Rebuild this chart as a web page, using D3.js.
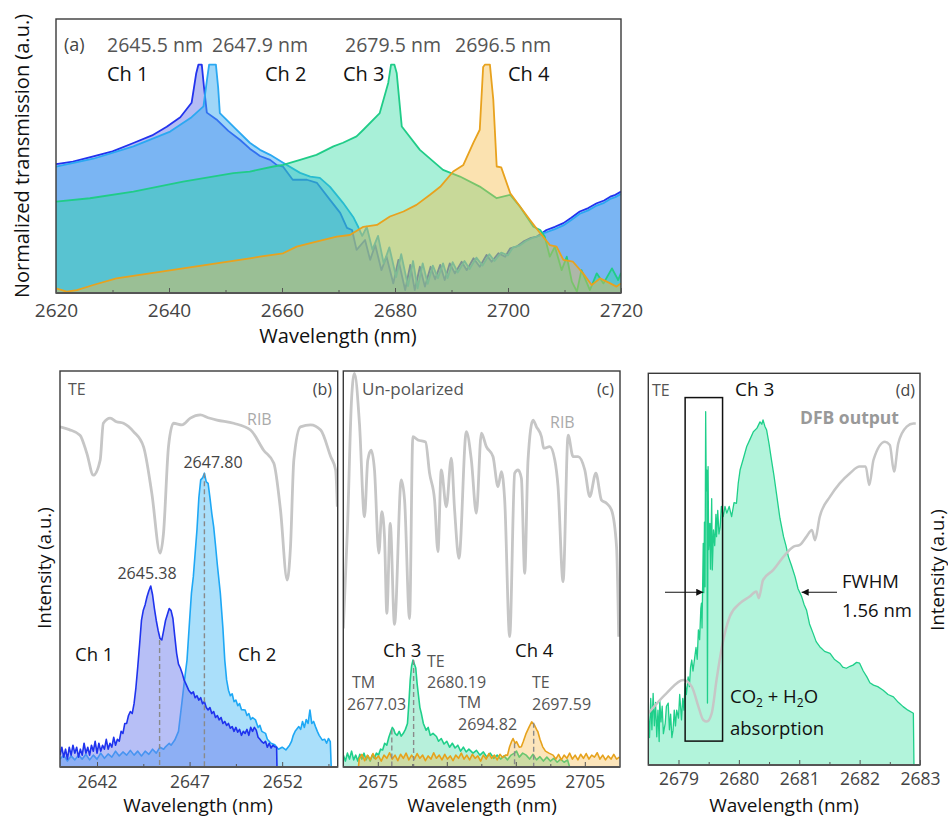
<!DOCTYPE html>
<html>
<head>
<meta charset="utf-8">
<script src="https://cdn.jsdelivr.net/npm/d3@7"></script>
<style>
  body { margin: 0; background: #fff; }
  svg { display: block; font-family: "Open Sans", sans-serif; }
</style>
</head>
<body>
<svg id="fig" width="948" height="821"></svg>
<script>
// ---------- data: [wavelength nm, value] ----------
// (a) normalized transmission of the four filters
const aCh1 = [[2620,0.564],[2623,0.575],[2626.6,0.598],[2630,0.62],[2633.7,0.657],[2637,0.69],[2639.6,0.728],[2642,0.77],[2644,0.833],[2644.8,0.96],[2645.2,1.0],[2645.8,1.0],[2646.2,0.9],[2646.7,0.79],[2648.4,0.76],[2650.5,0.71],[2652.6,0.67],[2654.3,0.632],[2656.1,0.60],[2657.9,0.583],[2659.1,0.56],[2660.2,0.553],[2661.9,0.496],[2664.4,0.496],[2666.2,0.482],[2668.5,0.408],[2670.3,0.351],[2671.5,0.285],[2672.4,0.276],[2673.2,0.189],[2674.7,0.232],[2675.6,0.145],[2676.5,0.21],[2677.6,0.10],[2678.5,0.16],[2679.7,0.042],[2680.6,0.145],[2681.8,0.013],[2682.7,0.123],[2683.5,0.013],[2684.4,0.115],[2685.3,0.028],[2686.3,0.115],[2687.1,0.06],[2688.0,0.123],[2688.8,0.057],[2689.7,0.13],[2690.6,0.086],[2691.8,0.137],[2692.7,0.10],[2693.9,0.152],[2695.0,0.115],[2696.2,0.167],[2697.1,0.137],[2698.3,0.174],[2699.5,0.159],[2700.4,0.196],[2701.5,0.203],[2702.7,0.225],[2703.9,0.24],[2705.1,0.247],[2706.0,0.262],[2706.8,0.276],[2708.3,0.29],[2709.8,0.306],[2711.2,0.33],[2712.7,0.357],[2714.2,0.372],[2715.7,0.393],[2717,0.405],[2718.1,0.422],[2719,0.43],[2720,0.444]];
const aCh2 = [[2620,0.553],[2626.6,0.588],[2633.7,0.642],[2640.2,0.707],[2644,0.77],[2646.1,0.817],[2646.7,0.93],[2647.1,1.0],[2648.3,1.0],[2648.7,0.9],[2649.0,0.788],[2651.4,0.729],[2654.3,0.658],[2656.1,0.627],[2657.9,0.605],[2660.2,0.570],[2663.2,0.526],[2665,0.51],[2666.7,0.504],[2668.5,0.465],[2670.8,0.395],[2672.6,0.333],[2673.5,0.289],[2674.2,0.25],[2675.0,0.29],[2676.0,0.19],[2677.0,0.25],[2678.0,0.13],[2679.0,0.2],[2680.2,0.07],[2681.1,0.17],[2682.3,0.03],[2683.2,0.14],[2684.0,0.02],[2684.9,0.13],[2685.8,0.04],[2686.7,0.12],[2687.6,0.065],[2688.5,0.13],[2689.3,0.065],[2690.2,0.135],[2691.1,0.09],[2692.3,0.14],[2693.2,0.105],[2694.4,0.155],[2695.5,0.12],[2696.7,0.17],[2697.6,0.14],[2698.8,0.177],[2700,0.165],[2700.9,0.2],[2702,0.207],[2703.2,0.228],[2704.4,0.242],[2705.5,0.25],[2706.2,0.262],[2706.8,0.266],[2708.3,0.28],[2709.8,0.296],[2711.2,0.32],[2712.7,0.347],[2714.2,0.362],[2715.7,0.383],[2717,0.395],[2718.1,0.412],[2719,0.42],[2720,0.434]];
const aCh3 = [[2620,0.40],[2626,0.415],[2633.7,0.444],[2642.5,0.488],[2651.4,0.525],[2654.3,0.532],[2658.5,0.554],[2660.2,0.561],[2663.2,0.583],[2666.1,0.605],[2669.1,0.642],[2670.8,0.658],[2673.2,0.686],[2674.4,0.715],[2677.3,0.788],[2678.8,0.92],[2679.3,1.0],[2679.9,1.0],[2680.3,0.964],[2681.2,0.729],[2684.4,0.627],[2688.5,0.539],[2691.5,0.51],[2695.0,0.466],[2698.0,0.415],[2700.4,0.43],[2702.1,0.379],[2704.5,0.29],[2705.7,0.276],[2706.5,0.247],[2707.4,0.159],[2708.3,0.203],[2709.5,0.10],[2710.4,0.159],[2711.3,0.05],[2712.2,0.006],[2713.0,0.10],[2714.5,0.013],[2715.7,0.086],[2716.9,0.042],[2718.4,0.108],[2719.5,0.057],[2720,0.088]];
const aCh4 = [[2620,0.02],[2621.9,0.006],[2623.7,0.013],[2626.6,0.035],[2630.7,0.064],[2636.6,0.086],[2642.5,0.108],[2648.4,0.13],[2654.3,0.152],[2656.1,0.159],[2660.2,0.174],[2662.6,0.203],[2666.1,0.225],[2669.7,0.247],[2672.0,0.254],[2674.4,0.29],[2676.8,0.298],[2679.1,0.335],[2681.5,0.357],[2683.8,0.386],[2686.2,0.43],[2688.0,0.465],[2690.3,0.532],[2692.1,0.561],[2693.9,0.66],[2695.0,0.715],[2695.6,0.99],[2695.9,1.0],[2696.8,1.0],[2697.4,0.846],[2698.0,0.554],[2698.8,0.55],[2700.4,0.437],[2701.5,0.40],[2703.9,0.32],[2705.7,0.262],[2707.4,0.21],[2708.6,0.203],[2709.8,0.145],[2711.5,0.137],[2713.3,0.086],[2714.8,0.035],[2716.3,0.064],[2718.1,0.042],[2719.2,0.028],[2720,0.042]];
const aPeakLabels = ["2645.5 nm", "2647.9 nm", "2679.5 nm", "2696.5 nm"];
const aTicks = [2620, 2640, 2660, 2680, 2700, 2720];

// (b) TE emission of Ch 1 / Ch 2 with RIB reference
const bRib = [[2640.0,0.859],[2640.5,0.852],[2641.08,0.838],[2641.45,0.792],[2641.8,0.737],[2642.17,0.775],[2642.34,0.868],[2642.71,0.881],[2643.05,0.872],[2643.43,0.868],[2643.97,0.847],[2644.51,0.809],[2644.96,0.691],[2645.41,0.54],[2645.59,0.59],[2645.86,0.809],[2646.13,0.868],[2646.59,0.864],[2647.04,0.881],[2647.58,0.889],[2648.0,0.882],[2648.48,0.876],[2649.38,0.868],[2650.29,0.851],[2651.0,0.80],[2651.55,0.767],[2651.91,0.649],[2652.27,0.472],[2652.45,0.556],[2652.63,0.775],[2652.99,0.859],[2653.54,0.864],[2654.08,0.851],[2654.62,0.784],[2654.89,0.75],[2654.98,0.657]];
const bCh1 = [[2640.0,0.03],[2640.1,0.05],[2640.2,0.025],[2640.3,0.045],[2640.4,0.02],[2640.5,0.05],[2640.6,0.03],[2640.7,0.055],[2640.8,0.035],[2640.9,0.05],[2641.0,0.025],[2641.1,0.045],[2641.2,0.03],[2641.3,0.06],[2641.4,0.035],[2641.5,0.05],[2641.6,0.03],[2641.7,0.055],[2641.8,0.04],[2641.9,0.065],[2642.0,0.035],[2642.1,0.06],[2642.2,0.04],[2642.3,0.055],[2642.4,0.045],[2642.5,0.07],[2642.6,0.045],[2642.7,0.06],[2642.8,0.05],[2642.9,0.075],[2643.0,0.055],[2643.1,0.07],[2643.2,0.065],[2643.3,0.09],[2643.4,0.085],[2643.5,0.11],[2643.6,0.11],[2643.7,0.13],[2643.8,0.14],[2643.9,0.135],[2644.0,0.16],[2644.1,0.2],[2644.2,0.253],[2644.3,0.31],[2644.4,0.37],[2644.5,0.396],[2644.6,0.41],[2644.7,0.43],[2644.8,0.445],[2644.9,0.457],[2645.0,0.435],[2645.1,0.40],[2645.2,0.37],[2645.3,0.345],[2645.4,0.325],[2645.5,0.321],[2645.6,0.345],[2645.7,0.37],[2645.8,0.385],[2645.9,0.40],[2646.0,0.395],[2646.1,0.375],[2646.2,0.33],[2646.3,0.287],[2646.4,0.26],[2646.5,0.25],[2646.6,0.237],[2646.7,0.22],[2646.8,0.21],[2646.95,0.194],[2647.1,0.185],[2647.2,0.19],[2647.3,0.175],[2647.4,0.18],[2647.5,0.169],[2647.6,0.175],[2647.7,0.16],[2647.8,0.165],[2647.9,0.15],[2648.0,0.144],[2648.1,0.15],[2648.2,0.135],[2648.3,0.14],[2648.4,0.125],[2648.5,0.13],[2648.6,0.119],[2648.7,0.125],[2648.8,0.11],[2648.9,0.115],[2649.0,0.105],[2649.1,0.11],[2649.2,0.098],[2649.3,0.102],[2649.4,0.09],[2649.5,0.1],[2649.6,0.088],[2649.7,0.095],[2649.8,0.08],[2649.9,0.09],[2650.0,0.085],[2650.1,0.095],[2650.2,0.08],[2650.3,0.1],[2650.4,0.09],[2650.5,0.1],[2650.6,0.093],[2650.7,0.075],[2650.8,0.07],[2650.9,0.064],[2651.0,0.06],[2651.1,0.065],[2651.2,0.05],[2651.3,0.06],[2651.4,0.048],[2651.5,0.055],[2651.6,0.051],[2651.7,0.05],[2651.72,0.0]];
const bCh2 = [[2640.0,0.02],[2640.2,0.03],[2640.4,0.015],[2640.6,0.028],[2640.8,0.018],[2641.0,0.03],[2641.2,0.02],[2641.4,0.032],[2641.6,0.018],[2641.8,0.03],[2642.0,0.02],[2642.2,0.035],[2642.4,0.022],[2642.6,0.033],[2642.8,0.025],[2643.0,0.04],[2643.2,0.028],[2643.4,0.038],[2643.6,0.03],[2643.8,0.042],[2644.0,0.03],[2644.2,0.04],[2644.4,0.028],[2644.6,0.04],[2644.8,0.032],[2645.0,0.045],[2645.2,0.035],[2645.4,0.05],[2645.6,0.045],[2645.7,0.051],[2645.9,0.06],[2646.0,0.055],[2646.2,0.068],[2646.4,0.09],[2646.6,0.169],[2646.7,0.21],[2646.86,0.27],[2647.0,0.37],[2647.1,0.439],[2647.2,0.48],[2647.4,0.6],[2647.5,0.68],[2647.6,0.725],[2647.7,0.73],[2647.8,0.742],[2647.9,0.72],[2648.0,0.716],[2648.1,0.68],[2648.2,0.64],[2648.3,0.607],[2648.4,0.56],[2648.5,0.51],[2648.66,0.439],[2648.8,0.35],[2648.9,0.27],[2649.0,0.22],[2649.1,0.194],[2649.2,0.18],[2649.3,0.185],[2649.4,0.165],[2649.5,0.169],[2649.6,0.155],[2649.7,0.16],[2649.8,0.145],[2650.0,0.144],[2650.1,0.13],[2650.2,0.135],[2650.3,0.12],[2650.4,0.125],[2650.56,0.119],[2650.7,0.1],[2650.8,0.105],[2650.9,0.09],[2651.1,0.085],[2651.2,0.07],[2651.4,0.06],[2651.6,0.056],[2651.8,0.045],[2652.0,0.05],[2652.2,0.043],[2652.4,0.055],[2652.5,0.064],[2652.6,0.08],[2652.7,0.09],[2652.9,0.102],[2653.0,0.095],[2653.1,0.115],[2653.2,0.1],[2653.3,0.12],[2653.4,0.11],[2653.5,0.144],[2653.6,0.11],[2653.7,0.115],[2653.8,0.102],[2653.9,0.09],[2654.0,0.08],[2654.17,0.068],[2654.3,0.07],[2654.4,0.06],[2654.5,0.072],[2654.6,0.064],[2654.65,0.0]];
const bMarks = [2645.38, 2647.80];
const bTicks = [2642, 2647, 2652];

// (c) un-polarized emission of Ch 3 / Ch 4 with RIB reference
const cRib = [[2670.0,0.35],[2670.6,0.6],[2671.2,0.93],[2671.62,0.994],[2672.34,0.868],[2673.07,0.632],[2673.55,0.775],[2674.04,0.80],[2674.52,0.75],[2675.15,0.54],[2675.58,0.645],[2675.97,0.582],[2676.31,0.388],[2676.8,0.615],[2677.42,0.36],[2678.4,0.725],[2678.88,0.674],[2679.6,0.375],[2680.08,0.834],[2680.81,0.826],[2681.92,0.821],[2682.5,0.742],[2683.23,0.674],[2683.71,0.544],[2684.2,0.75],[2684.93,0.657],[2685.65,0.78],[2686.13,0.649],[2686.76,0.527],[2687.83,0.847],[2688.56,0.775],[2689.28,0.641],[2690.01,0.843],[2690.73,0.809],[2691.69,0.784],[2692.42,0.708],[2692.91,0.746],[2693.39,0.674],[2694.11,0.329],[2694.84,0.742],[2695.32,0.75],[2695.81,0.729],[2696.29,0.489],[2696.77,0.775],[2697.5,0.876],[2697.99,0.859],[2698.72,0.834],[2699.05,0.805],[2699.92,0.809],[2700.65,0.775],[2701.12,0.708],[2701.85,0.468],[2702.58,0.838],[2703.3,0.784],[2704.03,0.784],[2705.0,0.75],[2705.72,0.683],[2706.6,0.742],[2707.42,0.674],[2708.15,0.666],[2708.87,0.649],[2709.6,0.556],[2709.91,0.329]];
const cCh3 = [[2670.0,0.03],[2670.3,0.015],[2670.6,0.035],[2670.9,0.02],[2671.2,0.04],[2671.5,0.018],[2671.8,0.03],[2672.1,0.015],[2672.4,0.032],[2672.7,0.02],[2673.0,0.035],[2673.3,0.018],[2673.6,0.028],[2673.9,0.015],[2674.2,0.03],[2674.5,0.022],[2674.8,0.035],[2675.1,0.03],[2675.4,0.045],[2675.7,0.043],[2676.0,0.06],[2676.3,0.055],[2676.6,0.075],[2676.9,0.09],[2677.1,0.1],[2677.3,0.095],[2677.5,0.085],[2677.8,0.08],[2678.1,0.09],[2678.4,0.078],[2678.7,0.085],[2679.0,0.095],[2679.3,0.11],[2679.5,0.16],[2679.7,0.22],[2679.9,0.255],[2680.1,0.27],[2680.3,0.26],[2680.5,0.25],[2680.7,0.21],[2680.9,0.18],[2681.1,0.15],[2681.3,0.136],[2681.6,0.11],[2682.0,0.093],[2682.3,0.1],[2682.6,0.08],[2683.0,0.085],[2683.5,0.077],[2683.8,0.065],[2684.2,0.072],[2684.6,0.058],[2685.0,0.065],[2685.4,0.05],[2685.8,0.06],[2686.2,0.048],[2686.6,0.055],[2687.0,0.04],[2687.4,0.05],[2687.8,0.038],[2688.2,0.045],[2688.8,0.035],[2689.3,0.042],[2689.8,0.03],[2690.3,0.038],[2690.8,0.025],[2691.3,0.035],[2691.8,0.022],[2692.3,0.03],[2692.8,0.02],[2693.3,0.028],[2693.8,0.018],[2694.3,0.03],[2694.8,0.035],[2695.1,0.04],[2695.5,0.025],[2696.0,0.035],[2696.5,0.03],[2697.0,0.02],[2697.5,0.032],[2698.0,0.018],[2698.5,0.026],[2699.0,0.015],[2699.5,0.025],[2700.0,0.015],[2700.5,0.022],[2701.0,0.012],[2701.5,0.02],[2702.0,0.012],[2702.5,0.018],[2702.8,0.0]];
const cCh4 = [[2672.2,0.0],[2672.3,0.02],[2672.7,0.032],[2673.1,0.016],[2673.5,0.03],[2673.9,0.018],[2674.3,0.034],[2674.7,0.02],[2675.1,0.028],[2675.5,0.015],[2675.9,0.03],[2676.3,0.022],[2676.7,0.036],[2677.1,0.02],[2677.5,0.03],[2677.9,0.016],[2678.3,0.032],[2678.7,0.022],[2679.1,0.035],[2679.5,0.018],[2679.9,0.03],[2680.3,0.02],[2680.7,0.034],[2681.1,0.022],[2681.5,0.03],[2681.9,0.016],[2682.3,0.028],[2682.7,0.02],[2683.1,0.036],[2683.5,0.022],[2683.9,0.03],[2684.3,0.018],[2684.7,0.032],[2685.1,0.02],[2685.5,0.028],[2685.9,0.016],[2686.3,0.03],[2686.7,0.022],[2687.1,0.035],[2687.5,0.02],[2687.9,0.03],[2688.3,0.018],[2688.7,0.032],[2689.1,0.022],[2689.5,0.028],[2689.9,0.015],[2690.3,0.03],[2690.7,0.02],[2691.1,0.034],[2691.5,0.022],[2691.9,0.03],[2692.3,0.018],[2692.7,0.032],[2693.1,0.024],[2693.5,0.03],[2693.8,0.03],[2694.1,0.051],[2694.4,0.065],[2694.6,0.072],[2694.9,0.06],[2695.1,0.064],[2695.5,0.05],[2695.8,0.051],[2696.1,0.065],[2696.5,0.085],[2696.9,0.1],[2697.3,0.114],[2697.5,0.11],[2697.7,0.106],[2698.0,0.095],[2698.2,0.089],[2698.5,0.07],[2698.9,0.051],[2699.3,0.04],[2699.8,0.035],[2700.4,0.03],[2700.8,0.02],[2701.2,0.032],[2701.6,0.018],[2702.0,0.03],[2702.4,0.022],[2702.8,0.035],[2703.2,0.02],[2703.6,0.03],[2704.0,0.018],[2704.4,0.032],[2704.8,0.022],[2705.2,0.034],[2705.6,0.02],[2706.0,0.03],[2706.4,0.025],[2706.8,0.036],[2707.2,0.02],[2707.6,0.03],[2708.0,0.018],[2708.4,0.028],[2708.8,0.02],[2709.2,0.032],[2709.6,0.02],[2710,0.025]];
const cMarks = [[2677.03, 0.095], [2680.19, 0.27], [2694.82, 0.06], [2697.59, 0.112]];
const cTicks = [2675, 2685, 2695, 2705];

// (d) high-resolution Ch 3 spectrum and DFB output
const dCh3 = [[2678.5,0.0],[2678.5,0.13],[2678.52,0.07],[2678.54,0.17],[2678.56,0.09],[2678.58,0.183],[2678.6,0.1],[2678.62,0.16],[2678.64,0.072],[2678.66,0.14],[2678.68,0.06],[2678.69,0.166],[2678.71,0.11],[2678.73,0.15],[2678.75,0.08],[2678.78,0.106],[2678.8,0.15],[2678.83,0.158],[2678.85,0.09],[2678.87,0.13],[2678.89,0.07],[2678.91,0.089],[2678.93,0.14],[2678.95,0.1],[2678.97,0.14],[2679.0,0.12],[2679.02,0.18],[2679.05,0.115],[2679.07,0.17],[2679.09,0.14],[2679.11,0.209],[2679.13,0.18],[2679.16,0.225],[2679.18,0.2],[2679.2,0.25],[2679.22,0.268],[2679.24,0.24],[2679.27,0.276],[2679.29,0.3],[2679.31,0.27],[2679.33,0.345],[2679.35,0.32],[2679.37,0.4],[2679.38,0.413],[2679.39,0.35],[2679.41,0.566],[2679.42,0.44],[2679.43,0.62],[2679.44,0.455],[2679.45,0.902],[2679.46,0.7],[2679.47,0.753],[2679.48,0.158],[2679.49,0.762],[2679.5,0.55],[2679.52,0.617],[2679.53,0.5],[2679.55,0.68],[2679.56,0.498],[2679.58,0.60],[2679.6,0.56],[2679.62,0.64],[2679.63,0.583],[2679.65,0.65],[2679.67,0.59],[2679.69,0.608],[2679.71,0.66],[2679.74,0.634],[2679.77,0.66],[2679.8,0.643],[2679.84,0.66],[2679.88,0.634],[2679.92,0.67],[2679.96,0.668],[2679.99,0.72],[2680.02,0.753],[2680.07,0.78],[2680.13,0.813],[2680.18,0.83],[2680.24,0.851],[2680.3,0.86],[2680.35,0.876],[2680.38,0.87],[2680.4,0.881],[2680.43,0.865],[2680.46,0.855],[2680.5,0.82],[2680.54,0.779],[2680.58,0.74],[2680.63,0.685],[2680.68,0.63],[2680.74,0.583],[2680.78,0.56],[2680.82,0.532],[2680.87,0.51],[2680.93,0.481],[2680.98,0.45],[2681.04,0.43],[2681.08,0.41],[2681.12,0.396],[2681.17,0.36],[2681.23,0.336],[2681.28,0.315],[2681.34,0.302],[2681.42,0.29],[2681.51,0.285],[2681.58,0.27],[2681.67,0.26],[2681.72,0.25],[2681.78,0.247],[2681.84,0.252],[2681.89,0.255],[2681.95,0.262],[2682.0,0.26],[2682.06,0.24],[2682.12,0.225],[2682.17,0.21],[2682.23,0.204],[2682.3,0.2],[2682.39,0.191],[2682.47,0.18],[2682.56,0.174],[2682.64,0.16],[2682.72,0.149],[2682.8,0.14],[2682.89,0.132],[2682.9,0.0]];
const dDfb = [[2678.5,0.132],[2678.8,0.183],[2679.08,0.217],[2679.22,0.2],[2679.33,0.149],[2679.41,0.115],[2679.47,0.111],[2679.55,0.132],[2679.63,0.217],[2679.72,0.302],[2679.85,0.379],[2680.02,0.413],[2680.18,0.43],[2680.29,0.443],[2680.33,0.426],[2680.4,0.472],[2680.57,0.498],[2680.74,0.532],[2680.9,0.557],[2681.01,0.562],[2681.12,0.583],[2681.21,0.60],[2681.26,0.574],[2681.34,0.634],[2681.51,0.685],[2681.67,0.719],[2681.84,0.745],[2682.0,0.762],[2682.1,0.762],[2682.16,0.715],[2682.23,0.779],[2682.42,0.825],[2682.5,0.817],[2682.57,0.749],[2682.64,0.821],[2682.78,0.864],[2682.89,0.872],[2682.93,0.872]];
const dBox = [[2679.11, 0.061], [2679.73, 0.938]];
const dFwhm = [2679.41, 2681.04, 0.441];
const dTicks = [2679, 2680, 2681, 2682, 2683];

// ---------- drawing ----------
const svg = d3.select("#fig");
svg.append("rect").attr("width", 948).attr("height", 821).attr("fill", "#fff");

function makePanel(id, box, xd, yd) {
  const x = d3.scaleLinear().domain(xd).range([box.l, box.r]);
  const y = d3.scaleLinear().domain(yd).range([box.b, box.t]);
  svg.append("clipPath").attr("id", id)
    .append("rect").attr("x", box.l).attr("y", box.t)
    .attr("width", box.r - box.l).attr("height", box.b - box.t);
  const g = svg.append("g");
  const plot = g.append("g").attr("clip-path", `url(#${id})`);
  return { x, y, g, plot, box };
}

function series(p, data, stroke, fill, fop, sw, curve) {
  const c = curve || d3.curveLinear;
  const area = d3.area().curve(c).x(d => p.x(d[0])).y0(p.y(0)).y1(d => p.y(d[1]));
  const line = d3.line().curve(c).x(d => p.x(d[0])).y(d => p.y(d[1]));
  if (fill) p.plot.append("path").attr("d", area(data)).attr("fill", fill).attr("fill-opacity", fop);
  p.plot.append("path").attr("d", line(data)).attr("fill", "none")
    .attr("stroke", stroke).attr("stroke-width", sw).attr("stroke-linejoin", "round");
}

function frame(p) {
  const b = p.box;
  p.g.append("rect").attr("x", b.l).attr("y", b.t).attr("width", b.r - b.l).attr("height", b.b - b.t)
    .attr("fill", "none").attr("stroke", "#3a3a3a").attr("stroke-width", 1.4);
  p.g.append("line").attr("x1", b.l).attr("x2", b.r).attr("y1", b.b).attr("y2", b.b)
    .attr("stroke", "#555").attr("stroke-width", 2);
}

function axis(p, major, minor, pad, fs) {
  const y0 = p.box.b;
  p.g.append("g").attr("transform", `translate(0,${y0})`)
    .call(d3.axisBottom(p.x).tickValues(minor).tickSize(-3).tickFormat(""))
    .call(a => a.select(".domain").remove())
    .selectAll("line").attr("stroke", "#555");
  const ax = p.g.append("g").attr("transform", `translate(0,${y0})`)
    .call(d3.axisBottom(p.x).tickValues(major).tickSize(-5).tickPadding(pad).tickFormat(d3.format("d")));
  ax.select(".domain").remove();
  ax.attr("font-family", null).attr("font-size", null);
  ax.selectAll("line").attr("stroke", "#555");
  ax.selectAll("text").attr("font-size", fs).attr("fill", "#444");
}

function label(x, y, txt, opt = {}) {
  const t = svg.append("text").attr("x", x).attr("y", y).text(txt)
    .attr("font-size", opt.size || 18).attr("fill", opt.color || "#111")
    .attr("text-anchor", opt.anchor || "start");
  if (opt.weight) t.attr("font-weight", opt.weight);
  if (opt.rotate) t.attr("transform", `rotate(-90,${x},${y})`);
  return t;
}

function dashed(p, xv, yv) {
  p.plot.append("line").attr("x1", p.x(xv)).attr("x2", p.x(xv))
    .attr("y1", p.y(yv)).attr("y2", p.y(0))
    .attr("stroke", "#8a8a8a").attr("stroke-width", 1.4).attr("stroke-dasharray", "5,3");
}

const smooth = d3.curveMonotoneX;

// ----- panel (a) -----
const pa = makePanel("clipA", { l: 56, r: 621, t: 19, b: 293 }, [2620, 2720], [0, 1.2]);
series(pa, aCh1, "#2233ee", "#6979e9", 0.5, 1.8);
series(pa, aCh2, "#2aa8f2", "#3fadf1", 0.5, 1.8);
series(pa, aCh3, "#20cc88", "#25d99d", 0.4, 1.8);
series(pa, aCh4, "#e8a21e", "#f5ba43", 0.42, 1.8);
frame(pa);
axis(pa, aTicks, [2630, 2650, 2670, 2690, 2710], 11, 19);

label(64, 51, "(a)", { size: 18, color: "#444" });
[107, 212, 345, 455].forEach((xx, i) => label(xx, 52, aPeakLabels[i], { size: 19.5, color: "#555" }));
[["Ch 1", 107], ["Ch 2", 265], ["Ch 3", 343], ["Ch 4", 508]].forEach(d => label(d[1], 81, d[0], { size: 20 }));
label(29, 156, "Normalized transmission (a.u.)", { size: 20, anchor: "middle", rotate: true });
label(338, 343, "Wavelength (nm)", { size: 20, anchor: "middle" });

// ----- panel (b) -----
const pb = makePanel("clipB", { l: 60, r: 337.7, t: 371, b: 767 }, [2640, 2655], [0, 1]);
series(pb, bRib, "#c6c6c6", null, 0, 2.8, smooth);
series(pb, bCh2, "#1ea8f5", "#55bff5", 0.5, 1.6);
series(pb, bCh1, "#1f33ee", "#7080ee", 0.5, 1.6);
dashed(pb, bMarks[0], 0.321);
dashed(pb, bMarks[1], 0.742);
frame(pb);
axis(pb, bTicks, [2644.5, 2649.5, 2654.5], 8.5, 17.5);

label(68, 395, "TE", { size: 16, color: "#555" });
label(332, 395, "(b)", { size: 16, color: "#444", anchor: "end" });
label(247, 425, "RIB", { size: 16, color: "#aaa" });
label(213, 468, "2647.80", { size: 16, color: "#444", anchor: "middle" });
label(147, 579, "2645.38", { size: 16, color: "#444", anchor: "middle" });
label(75, 661, "Ch 1", { size: 18.5 });
label(238, 661, "Ch 2", { size: 18.5 });
label(51, 568, "Intensity (a.u.)", { size: 18.5, anchor: "middle", rotate: true });
label(198, 812, "Wavelength (nm)", { size: 19, anchor: "middle" });

// ----- panel (c) -----
const pc = makePanel("clipC", { l: 343.3, r: 620, t: 371, b: 767 }, [2670, 2710.1], [0, 1]);
series(pc, cRib, "#c6c6c6", null, 0, 2.8, smooth);
series(pc, cCh3, "#1fcf8a", "#20d090", 0.32, 1.6);
series(pc, cCh4, "#e6a21c", "#f5b53c", 0.35, 1.6);
cMarks.forEach(m => dashed(pc, m[0], m[1]));
frame(pc);
axis(pc, cTicks, [2680, 2690, 2700], 8.5, 17.5);

label(362, 395, "Un-polarized", { size: 17, color: "#555" });
label(614, 395, "(c)", { size: 16, color: "#444", anchor: "end" });
label(550, 428, "RIB", { size: 16, color: "#aaa" });
label(383, 657, "Ch 3", { size: 18.5 });
label(515, 657, "Ch 4", { size: 18.5 });
label(427, 667, "TE", { size: 16, color: "#555" });
label(427, 688, "2680.19", { size: 16, color: "#555" });
label(352, 688, "TM", { size: 16, color: "#555" });
label(347, 710, "2677.03", { size: 16, color: "#555" });
label(458, 708, "TM", { size: 16, color: "#555" });
label(458, 730, "2694.82", { size: 16, color: "#555" });
label(532, 688, "TE", { size: 16, color: "#555" });
label(532, 710, "2697.59", { size: 16, color: "#555" });
label(482, 812, "Wavelength (nm)", { size: 19, anchor: "middle" });

// ----- panel (d) -----
const pd = makePanel("clipD", { l: 648.3, r: 920, t: 373.3, b: 765 }, [2678.5, 2683], [0, 1]);
series(pd, dCh3, "#1fcf8a", "#b2f4db", 1, 1.3);
series(pd, dDfb, "#c6c6c6", null, 0, 2.5, smooth);
pd.g.append("rect")
  .attr("x", pd.x(dBox[0][0])).attr("y", pd.y(dBox[1][1]))
  .attr("width", pd.x(dBox[1][0]) - pd.x(dBox[0][0]))
  .attr("height", pd.y(dBox[0][1]) - pd.y(dBox[1][1]))
  .attr("fill", "none").attr("stroke", "#111").attr("stroke-width", 1.5);

svg.append("defs").append("marker").attr("id", "head")
  .attr("viewBox", "0 0 10 10").attr("refX", 10).attr("refY", 5)
  .attr("markerWidth", 9).attr("markerHeight", 7).attr("markerUnits", "userSpaceOnUse")
  .attr("orient", "auto")
  .append("path").attr("d", "M0,0L10,5L0,10Z").attr("fill", "#111");
const fy = pd.y(dFwhm[2]);
pd.g.append("line").attr("x1", 665).attr("x2", pd.x(dFwhm[0])).attr("y1", fy).attr("y2", fy)
  .attr("stroke", "#111").attr("stroke-width", 1.1).attr("marker-end", "url(#head)");
pd.g.append("line").attr("x1", 837).attr("x2", pd.x(dFwhm[1])).attr("y1", fy).attr("y2", fy)
  .attr("stroke", "#111").attr("stroke-width", 1.1).attr("marker-end", "url(#head)");
frame(pd);
axis(pd, dTicks, [2679.5, 2680.5, 2681.5, 2682.5], 7.5, 17.5);

label(652, 396, "TE", { size: 16, color: "#555" });
label(735, 396, "Ch 3", { size: 19 });
label(915, 396, "(d)", { size: 16, color: "#444", anchor: "end" });
label(800, 424, "DFB output", { size: 17.5, color: "#999", weight: "bold" });
label(842, 588, "FWHM", { size: 18.5 });
label(842, 617, "1.56 nm", { size: 18.5 });
const co = label(730, 703, "", { size: 18.5 });
co.append("tspan").text("CO");
co.append("tspan").text("2").attr("font-size", 12).attr("dy", 4);
co.append("tspan").text(" + H").attr("dy", -4);
co.append("tspan").text("2").attr("font-size", 12).attr("dy", 4);
co.append("tspan").text("O").attr("dy", -4);
label(730, 735, "absorption", { size: 18.5 });
label(784, 812, "Wavelength (nm)", { size: 19, anchor: "middle" });
label(944, 570, "Intensity (a.u.)", { size: 18.5, anchor: "middle", rotate: true });
</script>
</body>
</html>
